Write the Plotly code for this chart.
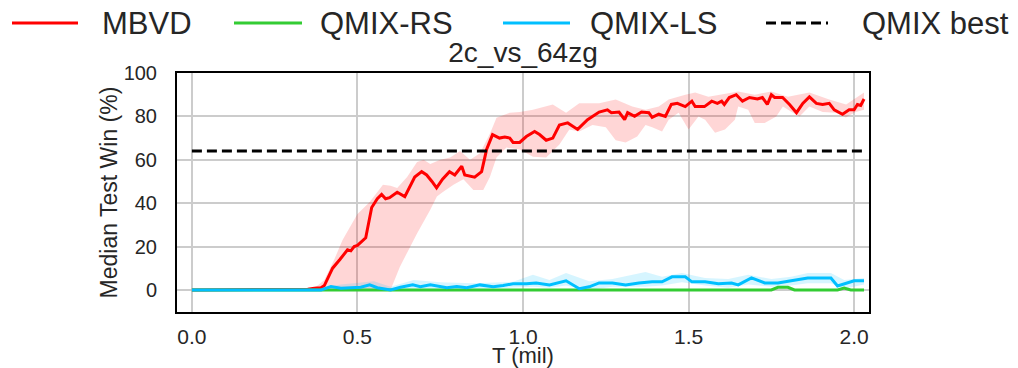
import plotly.graph_objects as go

# ---------------- data ----------------
mbvd_x = [0.0, 0.1, 0.2, 0.3, 0.35, 0.37, 0.39, 0.40, 0.41, 0.425, 0.447, 0.46, 0.47, 0.48, 0.49, 0.50,
          0.516, 0.525, 0.543, 0.56, 0.573, 0.585, 0.597, 0.61, 0.62, 0.643, 0.673, 0.694, 0.709, 0.725,
          0.739, 0.757, 0.778, 0.794, 0.815, 0.824, 0.854, 0.875, 0.89, 0.908, 0.929, 0.945, 0.96, 0.97,
          0.99, 1.01, 1.035, 1.05, 1.07, 1.09, 1.11, 1.135, 1.165, 1.195, 1.23, 1.255, 1.267, 1.29, 1.307,
          1.316, 1.337, 1.358, 1.38, 1.39, 1.41, 1.43, 1.448, 1.466, 1.49, 1.51, 1.52, 1.548, 1.57, 1.587,
          1.6, 1.608, 1.623, 1.644, 1.663, 1.684, 1.708, 1.723, 1.738, 1.75, 1.76, 1.784, 1.805, 1.826,
          1.845, 1.865, 1.886, 1.905, 1.925, 1.94, 1.965, 1.985, 2.0, 2.01, 2.02, 2.03]
mbvd_y = [0, 0, 0, 0, 0.3, 0.8, 1, 2, 5, 10, 14, 16.5, 18.5, 18, 20, 20.5,
          23, 24, 38, 42, 44, 42, 42.5, 44, 45, 43, 52, 54.5, 53, 50,
          47, 51, 54.5, 53, 57, 53, 52, 54.5, 64.7, 71.6, 70, 70.5, 70, 68,
          68, 70.7, 73, 71.6, 69, 70, 76, 77, 74, 78.5, 82, 83, 81.7, 82, 78.5,
          81.7, 80, 82, 81.7, 79.5, 81, 80, 85.5, 86, 84.5, 87, 84.5, 84.5, 87, 86,
          87, 85.5, 88.7, 90, 87, 88.7, 88, 88.7, 85.5, 90, 88.7, 88.7, 85.5, 81.7,
          86, 89, 86, 85.5, 86, 83, 81, 83, 83, 85.5, 85, 88]

mbvd_band_up_x = [0.0, 0.36, 0.38, 0.40, 0.43, 0.455, 0.5, 0.537, 0.577, 0.6, 0.62, 0.65, 0.68, 0.7,
                  0.72, 0.75, 0.78, 0.81, 0.84, 0.87, 0.9, 0.92, 0.96, 0.99, 1.03, 1.09, 1.13, 1.17,
                  1.23, 1.28, 1.33, 1.37, 1.41, 1.44, 1.49, 1.52, 1.56, 1.65, 1.7, 1.75, 1.8, 1.865,
                  1.925, 1.976, 2.03]
mbvd_band_up = [0, 0.5, 2, 4.6, 14, 23, 35, 40.5, 48.5, 48, 47, 52, 59, 60,
                58, 60, 61, 64, 60, 63, 72, 79.4, 81.7, 82, 83, 85.5, 81.7, 86,
                86, 87.8, 84.5, 83, 84.5, 87.8, 90, 91, 89, 91.5, 90, 91.5, 89, 91,
                87.8, 85.5, 91]
mbvd_band_lo_x = [0.0, 0.6, 0.628, 0.68, 0.72, 0.74, 0.757, 0.79, 0.82, 0.85, 0.88, 0.9, 0.92, 0.95,
                  0.99, 1.03, 1.07, 1.11, 1.14, 1.17, 1.21, 1.25, 1.28, 1.31, 1.345, 1.37, 1.39, 1.42,
                  1.44, 1.47, 1.5, 1.53, 1.55, 1.58, 1.61, 1.64, 1.65, 1.68, 1.7, 1.73, 1.765, 1.785,
                  1.815, 1.835, 1.865, 1.905, 1.945, 1.975, 2.005, 2.03]
mbvd_band_lo = [0, 0, 10.6, 26, 37, 43, 45, 48.5, 51, 46, 46, 52, 61, 65.6,
                64.7, 61.4, 61, 67, 74, 73, 76, 75, 69, 68, 70.7, 76, 75, 73,
                78.5, 81.7, 74, 80, 78.5, 72.5, 74, 78.5, 84.5, 83, 77, 77, 80, 84.5,
                81.7, 80, 84.5, 82, 81.7, 79.5, 82, 83]

rs_x = [0.0, 1.75, 1.77, 1.80, 1.82, 1.95, 1.97, 1.99, 2.03]
rs_y = [0, 0, 1.2, 1.2, 0, 0, 0.8, 0, 0]

ls_x = [0.0, 0.39, 0.42, 0.45, 0.48, 0.51, 0.537, 0.56, 0.6, 0.63, 0.667, 0.69, 0.72, 0.77, 0.8, 0.83,
        0.87, 0.91, 0.94, 0.97, 1.01, 1.04, 1.08, 1.13, 1.17, 1.2, 1.23, 1.27, 1.31, 1.35, 1.39, 1.42,
        1.45, 1.49, 1.51, 1.55, 1.59, 1.63, 1.65, 1.69, 1.73, 1.77, 1.81, 1.86, 1.89, 1.93, 1.95, 1.98,
        2.0, 2.03]
ls_y = [0, 0, 1.5, 0.8, 1.0, 1.2, 2.3, 1.0, 0, 1.2, 2.3, 1.5, 2.3, 1.0, 1.5, 1.0,
        2.3, 1.5, 2.0, 2.8, 2.8, 3.2, 2.3, 4.2, 0.5, 1.4, 3.2, 3.2, 2.3, 3.2, 3.7, 3.7,
        6, 6, 3.7, 3.7, 2.8, 3.2, 2.3, 5.5, 3.2, 3.2, 4.2, 5.5, 5.5, 5.5, 1.8, 3.2,
        4.2, 4.2]
ls_band_x = [0.0, 0.38, 0.45, 0.55, 0.6, 0.67, 0.75, 0.85, 0.97, 1.03, 1.08, 1.13, 1.2, 1.27, 1.37,
             1.42, 1.48, 1.55, 1.62, 1.68, 1.75, 1.81, 1.86, 1.93, 1.97, 2.03]
ls_band_up = [0.3, 0.5, 2.5, 4, 1.5, 4.6, 3.5, 3, 3.7, 7, 4.5, 7.8, 4, 5, 8.3,
              6, 7.8, 5.5, 5, 7, 5, 6, 7.8, 7.8, 4.5, 5.5]
ls_band_lo = [0, 0, 0, 0.5, 0, 0.5, 0.3, 0.3, 1, 1.5, 1, 2, 0, 1.5, 1.5,
              2, 3.5, 2, 1, 2.5, 1.5, 2, 3, 3, 0.5, 2.5]

best_x = [0.0, 2.03]
best_y = [64, 64]

x_ticks = [0.0, 0.5, 1.0, 1.5, 2.0]
y_ticks = [0, 20, 40, 60, 80, 100]

series_names = ["MBVD", "QMIX-RS", "QMIX-LS", "QMIX best"]

RED = "#ff0000"
GREEN = "#33cc33"
BLUE = "#00bfff"
FONT = "Liberation Sans, Arial, sans-serif"
TXT = "#262626"
LW = 3
DASH = "10px,5px"

# plot-area geometry (pixels)
W, H = 1018, 368
ML, MR, MT, MB = 177, 149, 73, 56
PW, PH = W - ML - MR, H - MT - MB


def px_x(p):
    return (p - ML) / PW


def px_y(p):
    return (H - MB - p) / PH


fig = go.Figure()

# bands
fig.add_trace(go.Scatter(x=mbvd_band_up_x + mbvd_band_lo_x[::-1], y=mbvd_band_up + mbvd_band_lo[::-1],
                         fill="toself", fillcolor="rgba(255,0,0,0.16)", line=dict(width=0),
                         showlegend=False, hoverinfo="skip"))
fig.add_trace(go.Scatter(x=ls_band_x + ls_band_x[::-1], y=ls_band_up + ls_band_lo[::-1],
                         fill="toself", fillcolor="rgba(0,191,255,0.16)", line=dict(width=0),
                         showlegend=False, hoverinfo="skip"))

styles = [dict(color=RED, width=LW), dict(color=GREEN, width=LW),
          dict(color=BLUE, width=LW), dict(color="black", width=LW, dash=DASH)]
xs = [mbvd_x, rs_x, ls_x, best_x]
ys = [mbvd_y, rs_y, ls_y, best_y]
for name, x, y, st in zip(series_names, xs, ys, styles):
    fig.add_trace(go.Scatter(x=x, y=y, mode="lines", name=name, line=st, showlegend=False))

# legend row drawn above the axes (sample line + label for each series)
legend_line_px = [(12, 78), (234, 302), (503, 570), (766, 828)]
legend_text_px = [100, 318, 588, 860]
legend_y_px = 23
shapes = []
annotations = []
for name, (a, b), tx, st in zip(series_names, legend_line_px, legend_text_px, styles):
    shapes.append(dict(type="line", xref="paper", yref="paper",
                       x0=px_x(a), x1=px_x(b), y0=px_y(legend_y_px), y1=px_y(legend_y_px),
                       line=st))
    annotations.append(dict(text=name, xref="paper", yref="paper", x=px_x(tx), y=px_y(legend_y_px),
                            xanchor="left", yanchor="middle", showarrow=False,
                            font=dict(size=31, color=TXT)))

fig.update_layout(
    width=W, height=H,
    margin=dict(l=ML, r=MR, t=MT, b=MB, autoexpand=False),
    paper_bgcolor="white", plot_bgcolor="white",
    font=dict(family=FONT, color=TXT, size=20),
    title=dict(text="2c_vs_64zg", x=0.5, xref="paper", xanchor="center",
               y=1.0, yref="paper", yanchor="bottom", pad=dict(b=11),
               font=dict(size=28, color=TXT)),
    showlegend=False,
    shapes=shapes,
    annotations=annotations,
)
fig.update_xaxes(range=[-0.045, 2.045], tickvals=x_ticks, ticktext=[f"{v:.1f}" for v in x_ticks],
                 showgrid=True, gridcolor="#cccccc", gridwidth=1.6, zeroline=False,
                 showline=True, linecolor="black", linewidth=2, mirror=True,
                 ticks="", ticklabelstandoff=5, tickfont=dict(size=21), automargin=False,
                 title=dict(text="T (mil)", standoff=6, font=dict(size=22)))
fig.update_yaxes(range=[-10.2, 100], tickvals=y_ticks,
                 showgrid=True, gridcolor="#cccccc", gridwidth=1.6, zeroline=False,
                 showline=True, linecolor="black", linewidth=2, mirror=True,
                 ticks="", ticklabelstandoff=14, tickfont=dict(size=20), automargin=False,
                 title=dict(text="Median Test Win (%)", standoff=0, font=dict(size=23)))

fig.write_html("out.html")
